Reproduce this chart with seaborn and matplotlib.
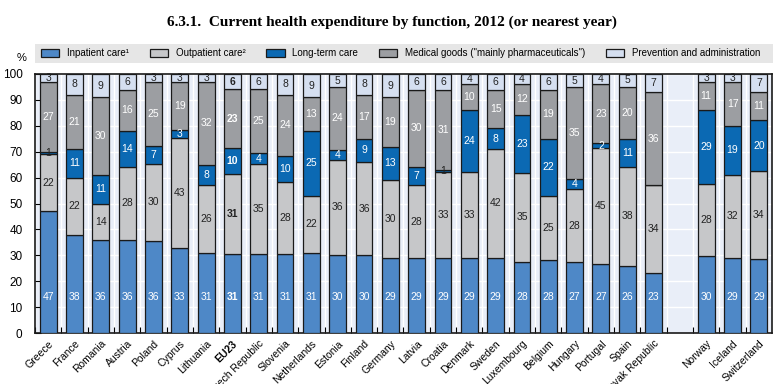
import matplotlib
matplotlib.use("Agg")
import matplotlib.pyplot as plt
import seaborn as sns
import pandas as pd
import numpy as np

# dados (% da despesa corrente em saúde)
paises = ['Greece', 'France', 'Romania', 'Austria', 'Poland', 'Cyprus', 'Lithuania', 'EU23',
          'Czech Republic', 'Slovenia', 'Netherlands', 'Estonia', 'Finland', 'Germany', 'Latvia',
          'Croatia', 'Denmark', 'Sweden', 'Luxembourg', 'Belgium', 'Hungary', 'Portugal', 'Spain',
          'Slovak Republic', 'Norway', 'Iceland', 'Switzerland']
internacao = [47, 38, 36, 36, 36, 33, 31, 31, 31, 31, 31, 30, 30, 29, 29, 29, 29, 29, 28, 28, 27, 27, 26, 23, 30, 29, 29]
ambulatorio = [22, 22, 14, 28, 30, 43, 26, 31, 35, 28, 22, 36, 36, 30, 28, 33, 33, 42, 35, 25, 28, 45, 38, 34, 28, 32, 34]
longa_duracao = [1, 11, 11, 14, 7, 3, 8, 10, 4, 10, 25, 4, 9, 13, 7, 1, 24, 8, 23, 22, 4, 2, 11, 0, 29, 19, 20]
bens_medicos = [27, 21, 30, 16, 25, 19, 32, 23, 25, 24, 13, 24, 17, 19, 30, 31, 10, 15, 12, 19, 35, 23, 20, 36, 11, 17, 11]
prevencao = [3, 8, 9, 6, 3, 3, 3, 6, 6, 8, 9, 5, 8, 9, 6, 6, 4, 6, 4, 6, 5, 4, 5, 7, 3, 3, 7]

series = ['Inpatient care¹', 'Outpatient care²', 'Long-term care',
          'Medical goods ("mainly pharmaceuticals")', 'Prevention and administration']
cores = ['#4e88c7', '#c6c7c9', '#0b69b3', '#9c9ea2', '#d5dff0']
cor_texto = ['white', '#222222', 'white', 'white', '#222222']

plt.rcParams['font.family'] = ['Liberation Sans', 'DejaVu Sans']

# ordem com um espaço vazio antes dos países fora da UE
ordem = paises[:24] + [' '] + paises[24:]

df = pd.DataFrame({'pais': paises, series[0]: internacao, series[1]: ambulatorio,
                   series[2]: longa_duracao, series[3]: bens_medicos, series[4]: prevencao})
valores = df[series].to_numpy(dtype=float)
# normaliza para 100 (os valores arredondados nem sempre somam 100)
valores = valores / valores.sum(axis=1, keepdims=True) * 100
base = np.zeros(len(paises))

fig = plt.figure(figsize=(7.84, 3.84), dpi=100)
ax = fig.add_axes([35 / 784, 1 - 333 / 384, 737 / 784, 259 / 384])
ax.set_facecolor('#e9eef8')

posicao = {p: i for i, p in enumerate(ordem)}

for k, s in enumerate(series):
    d = pd.DataFrame({'pais': paises, 'valor': valores[:, k]})
    sns.barplot(data=d, x='pais', y='valor', order=ordem, color=cores[k], width=0.64,
                bottom=base.copy(), edgecolor='#1a1a1a', linewidth=0.9, errorbar=None,
                saturation=1, ax=ax, label=s, zorder=3)
    for i, p in enumerate(paises):
        v = df[s].iloc[i]
        if v == 0:
            continue
        peso = 'bold' if p == 'EU23' else 'normal'
        if k == 0:
            y = 14
        else:
            y = base[i] + valores[i, k] / 2
        cor = cor_texto[k] if v > 1 else '#222222'
        ax.text(posicao[p], y, str(v), ha='center', va='center', fontsize=7.5,
                color=cor, fontweight=peso, zorder=5)
    base = base + valores[:, k]

ax.set_xlim(-0.5, len(ordem) - 0.5)
ax.set_ylim(0, 100)
ax.set_yticks(range(0, 101, 10))
ax.set_xlabel('')
ax.set_ylabel('')
ax.set_xticks(np.arange(len(ordem)) - 0.5, minor=True)
ax.set_xticks(np.arange(len(ordem)))
ax.set_xticklabels(ordem, rotation=45, ha='right', rotation_mode='anchor', fontsize=7.5)
for t in ax.get_xticklabels():
    if t.get_text() == 'EU23':
        t.set_fontweight('bold')
ax.tick_params(axis='x', which='major', length=0, pad=4)
ax.tick_params(axis='x', which='minor', length=4, direction='in', width=0.8)
ax.tick_params(axis='y', length=4, direction='in', width=0.8, labelsize=8.5, pad=9)
ax.grid(axis='y', color='white', linewidth=1, zorder=0)
ax.grid(axis='x', which='minor', color='white', linewidth=1, zorder=0)
ax.set_axisbelow(True)
for sp in ax.spines.values():
    sp.set_color('#1a1a1a')
    sp.set_linewidth(1.2)

# legenda
handles, labels = ax.get_legend_handles_labels()
if ax.get_legend():
    ax.get_legend().remove()
leg = fig.legend(handles, labels, loc='center left', ncol=5,
                 bbox_to_anchor=(41 / 784, 1 - 53 / 384), frameon=False,
                 fontsize=7, handlelength=1.9, handleheight=0.9,
                 columnspacing=2.1, handletextpad=0.8, borderaxespad=0, borderpad=0)
fig.patches.append(plt.Rectangle((35 / 784, 1 - 63 / 384), 738 / 784, 19 / 384,
                                 transform=fig.transFigure, facecolor='#e6e6e6',
                                 edgecolor='none', zorder=-1))

fig.text(22 / 784, 1 - 58 / 384, '%', fontsize=8, ha='center', va='center')
fig.text(0.5, 1 - 22 / 384, '6.3.1.  Current health expenditure by function, 2012 (or nearest year)',
         ha='center', va='center', fontsize=11, fontweight='bold', family='Liberation Serif')

fig.savefig('out.png', dpi=100)
